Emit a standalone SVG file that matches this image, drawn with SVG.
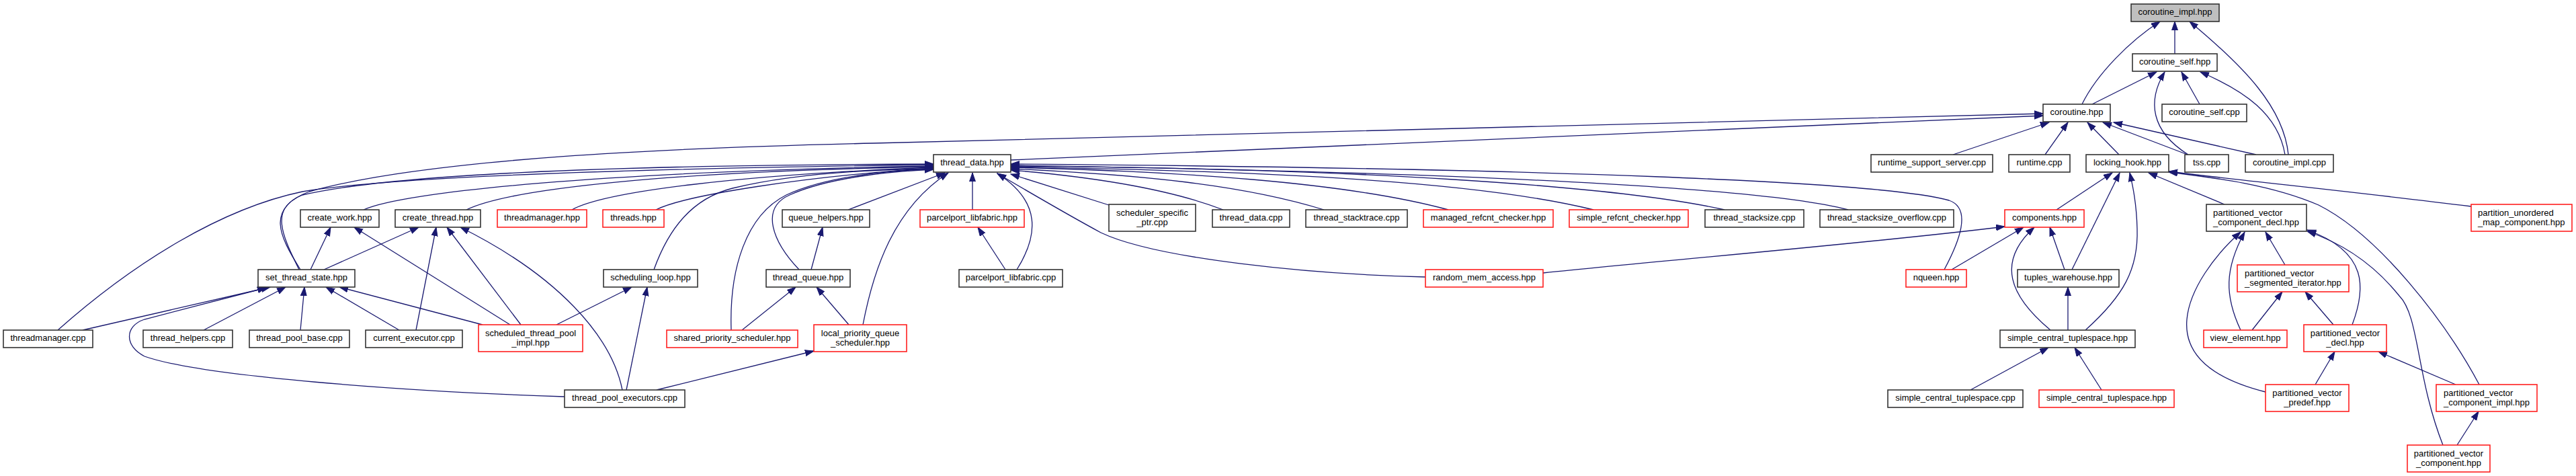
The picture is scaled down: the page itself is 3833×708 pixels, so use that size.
<svg xmlns="http://www.w3.org/2000/svg" width="3833" height="708" viewBox="0 0 3833 708">
<style>
rect{fill:#fff;stroke:#333;stroke-width:1.6}
.red rect{stroke:#ff2020}
.root rect{fill:#bfbfbf}
text{font-family:"Liberation Sans",Arial,sans-serif;font-size:13px;text-anchor:middle;fill:#000}
.l text{text-anchor:start}
.e path{fill:none;stroke:#191970;stroke-width:1.3;marker-end:url(#a)}
</style>
<defs>
<marker id="a" markerUnits="userSpaceOnUse" markerWidth="14" markerHeight="11" refX="13" refY="5" orient="auto"><path d="M0,0.5 L13,5 L0,9.5 z" fill="#191970" stroke="#191970" stroke-width="1"/></marker>
</defs>
<g id="edges" class="e">
<path d="M3236,80 L3236,32"/>
<path d="M3098,155 C3120,110 3170,60 3214,32"/>
<path d="M3405,230 C3398,160 3340,100 3258,32"/>
<path d="M3113,155 L3209,107"/>
<path d="M3256,230 C3200,195 3195,150 3221,107"/>
<path d="M3273,155 L3246,107"/>
<path d="M3400,230 C3390,170 3340,135 3274,107"/>
<path d="M1504,238 L3040,172"/>
<path d="M447,401 C415,350 395,310 460,285 C640,235 1000,220 1300,213 L3040,169"/>
<path d="M2906,230 L3049,182"/>
<path d="M3043,230 L3077,182"/>
<path d="M3153,230 L3106,182"/>
<path d="M3255,230 L3129,182"/>
<path d="M3357,230 L3145,182"/>
<path d="M541,312 C600,285 900,255 1389,247"/>
<path d="M694,312 C760,280 1000,255 1389,248"/>
<path d="M851,312 C900,285 1100,260 1389,249"/>
<path d="M976,312 C1020,290 1200,262 1389,250"/>
<path d="M445,401 C420,350 400,310 450,290 C600,255 1000,245 1389,244"/>
<path d="M86,491 C200,390 330,310 450,285 C600,260 1000,250 1389,245"/>
<path d="M973,401 C995,340 1030,295 1090,280 C1180,258 1300,252 1389,251"/>
<path d="M1088,491 C1085,400 1110,320 1170,290 C1230,262 1320,254 1389,251"/>
<path d="M1189,401 C1150,360 1130,310 1175,290 C1230,265 1320,255 1389,252"/>
<path d="M1262,312 L1406,257"/>
<path d="M1284,483 C1300,400 1330,310 1411,257"/>
<path d="M1447,312 L1447,257"/>
<path d="M1496,401 L1455,338"/>
<path d="M1513,401 C1545,350 1550,300 1484,258"/>
<path d="M2121,412 C1950,408 1720,385 1638,346 C1590,320 1530,285 1484,258"/>
<path d="M1650,305 L1504,259"/>
<path d="M1820,312 C1750,285 1650,265 1504,253"/>
<path d="M1970,312 C1850,275 1700,260 1504,251"/>
<path d="M2155,312 C2000,270 1750,255 1504,249"/>
<path d="M2371,312 C2200,270 1900,255 1504,248"/>
<path d="M2566,312 C2400,275 2000,250 1504,247"/>
<path d="M2750,312 C2650,285 2300,258 1504,246"/>
<path d="M2893,401 C2915,360 2935,310 2900,298 C2800,270 2300,250 1504,244"/>
<path d="M462,401 L492,338"/>
<path d="M482,401 L623,338"/>
<path d="M759,483 L527,338"/>
<path d="M775,483 L665,338"/>
<path d="M619,491 L649,338"/>
<path d="M926,580 C910,500 830,410 685,338"/>
<path d="M123,491 L402,427"/>
<path d="M840,590 C600,582 300,560 215,530 C185,515 185,485 215,475 L396,428"/>
<path d="M303,491 L425,427"/>
<path d="M447,491 L453,427"/>
<path d="M594,491 L485,427"/>
<path d="M718,483 L505,427"/>
<path d="M828,483 L940,427"/>
<path d="M932,580 L963,427"/>
<path d="M1104,491 L1184,427"/>
<path d="M1263,483 L1215,427"/>
<path d="M1207,401 L1224,338"/>
<path d="M977,580 L1211,522"/>
<path d="M3060,312 L3143,257"/>
<path d="M3083,401 L3154,257"/>
<path d="M3103,491 C3160,440 3182,400 3180,340 C3179,300 3173,275 3169,257"/>
<path d="M3310,304 L3197,257"/>
<path d="M3689,572 C3640,480 3540,350 3450,305 C3380,275 3300,265 3227,256"/>
<path d="M3677,307 C3500,285 3350,270 3227,255"/>
<path d="M2296,406 C2500,385 2800,360 2983,337"/>
<path d="M2904,401 L3011,338"/>
<path d="M3051,491 C2990,440 2970,390 3027,338"/>
<path d="M3072,401 L3050,338"/>
<path d="M3077,491 L3077,427"/>
<path d="M2932,580 L3048,517"/>
<path d="M3127,580 L3087,517"/>
<path d="M3400,394 L3371,345"/>
<path d="M3334,491 C3310,440 3310,400 3340,345"/>
<path d="M3351,491 L3396,434"/>
<path d="M3371,583 C3280,560 3250,520 3254,475 C3258,430 3295,380 3334,345"/>
<path d="M3472,483 L3430,434"/>
<path d="M3500,483 C3520,430 3525,375 3433,342"/>
<path d="M3635,662 C3595,560 3600,470 3570,440 C3530,390 3480,360 3433,344"/>
<path d="M3445,572 L3474,523"/>
<path d="M3654,572 L3539,523"/>
<path d="M3656,662 L3688,612"/>
</g>
<g id="n_coroutine_impl_hpp" class="root"><rect x="3171" y="6" width="131" height="26"/><text x="3236.5" y="22">coroutine_impl.hpp</text></g>
<g id="n_coroutine_self_hpp"><rect x="3173" y="80" width="126" height="26"/><text x="3236" y="96">coroutine_self.hpp</text></g>
<g id="n_coroutine_hpp"><rect x="3040" y="155" width="100" height="26"/><text x="3090" y="171">coroutine.hpp</text></g>
<g id="n_coroutine_self_cpp"><rect x="3217" y="155" width="126" height="26"/><text x="3280" y="171">coroutine_self.cpp</text></g>
<g id="n_thread_data_hpp"><rect x="1389" y="230" width="115" height="26"/><text x="1446.5" y="246">thread_data.hpp</text></g>
<g id="n_runtime_support_server_cpp"><rect x="2784" y="230" width="181" height="26"/><text x="2874.5" y="246">runtime_support_server.cpp</text></g>
<g id="n_runtime_cpp"><rect x="2989" y="230" width="91" height="26"/><text x="3034.5" y="246">runtime.cpp</text></g>
<g id="n_locking_hook_hpp"><rect x="3104" y="230" width="123" height="26"/><text x="3165.5" y="246">locking_hook.hpp</text></g>
<g id="n_tss_cpp"><rect x="3251" y="230" width="65" height="26"/><text x="3283.5" y="246">tss.cpp</text></g>
<g id="n_coroutine_impl_cpp"><rect x="3341" y="230" width="131" height="26"/><text x="3406.5" y="246">coroutine_impl.cpp</text></g>
<g id="n_create_work_hpp"><rect x="447" y="312" width="117" height="26"/><text x="505.5" y="328">create_work.hpp</text></g>
<g id="n_create_thread_hpp"><rect x="588" y="312" width="127" height="26"/><text x="651.5" y="328">create_thread.hpp</text></g>
<g id="n_threadmanager_hpp" class="red"><rect x="740" y="312" width="133" height="26"/><text x="806.5" y="328">threadmanager.hpp</text></g>
<g id="n_threads_hpp" class="red"><rect x="897" y="312" width="91" height="26"/><text x="942.5" y="328">threads.hpp</text></g>
<g id="n_queue_helpers_hpp"><rect x="1164" y="312" width="130" height="26"/><text x="1229" y="328">queue_helpers.hpp</text></g>
<g id="n_parcelport_libfabric_hpp" class="red"><rect x="1369" y="312" width="155" height="26"/><text x="1446.5" y="328">parcelport_libfabric.hpp</text></g>
<g id="n_scheduler_specific_ptr_cpp"><rect x="1650" y="304" width="129" height="40"/><text x="1714.5" y="321">scheduler_specific</text><text x="1714.5" y="335">_ptr.cpp</text></g>
<g id="n_thread_data_cpp"><rect x="1804" y="312" width="115" height="26"/><text x="1861.5" y="328">thread_data.cpp</text></g>
<g id="n_thread_stacktrace_cpp"><rect x="1943" y="312" width="151" height="26"/><text x="2018.5" y="328">thread_stacktrace.cpp</text></g>
<g id="n_managed_refcnt_checker_hpp" class="red"><rect x="2118" y="312" width="193" height="26"/><text x="2214.5" y="328">managed_refcnt_checker.hpp</text></g>
<g id="n_simple_refcnt_checker_hpp" class="red"><rect x="2335" y="312" width="177" height="26"/><text x="2423.5" y="328">simple_refcnt_checker.hpp</text></g>
<g id="n_thread_stacksize_cpp"><rect x="2537" y="312" width="147" height="26"/><text x="2610.5" y="328">thread_stacksize.cpp</text></g>
<g id="n_thread_stacksize_overflow_cpp"><rect x="2708" y="312" width="199" height="26"/><text x="2807.5" y="328">thread_stacksize_overflow.cpp</text></g>
<g id="n_components_hpp" class="red"><rect x="2983" y="312" width="118" height="26"/><text x="3042" y="328">components.hpp</text></g>
<g id="n_pv_component_decl_hpp" class="l"><rect x="3283" y="304" width="149" height="40"/><text x="3293" y="321">partitioned_vector</text><text x="3293" y="335">_component_decl.hpp</text></g>
<g id="n_partition_unordered_map_component_hpp" class="red l"><rect x="3677" y="304" width="150" height="40"/><text x="3687" y="321">partition_unordered</text><text x="3687" y="335">_map_component.hpp</text></g>
<g id="n_set_thread_state_hpp"><rect x="384" y="401" width="144" height="26"/><text x="456" y="417">set_thread_state.hpp</text></g>
<g id="n_scheduling_loop_hpp"><rect x="898" y="401" width="140" height="26"/><text x="968" y="417">scheduling_loop.hpp</text></g>
<g id="n_thread_queue_hpp"><rect x="1140" y="401" width="125" height="26"/><text x="1202.5" y="417">thread_queue.hpp</text></g>
<g id="n_parcelport_libfabric_cpp"><rect x="1427" y="401" width="154" height="26"/><text x="1504" y="417">parcelport_libfabric.cpp</text></g>
<g id="n_random_mem_access_hpp" class="red"><rect x="2121" y="401" width="175" height="26"/><text x="2208.5" y="417">random_mem_access.hpp</text></g>
<g id="n_nqueen_hpp" class="red"><rect x="2836" y="401" width="90" height="26"/><text x="2881" y="417">nqueen.hpp</text></g>
<g id="n_tuples_warehouse_hpp"><rect x="3002" y="401" width="151" height="26"/><text x="3077.5" y="417">tuples_warehouse.hpp</text></g>
<g id="n_pv_segmented_iterator_hpp" class="red l"><rect x="3329" y="394" width="166" height="40"/><text x="3340" y="411">partitioned_vector</text><text x="3340" y="425">_segmented_iterator.hpp</text></g>
<g id="n_threadmanager_cpp"><rect x="5" y="491" width="133" height="26"/><text x="71.5" y="507">threadmanager.cpp</text></g>
<g id="n_thread_helpers_cpp"><rect x="213" y="491" width="133" height="26"/><text x="279.5" y="507">thread_helpers.cpp</text></g>
<g id="n_thread_pool_base_cpp"><rect x="371" y="491" width="149" height="26"/><text x="445.5" y="507">thread_pool_base.cpp</text></g>
<g id="n_current_executor_cpp"><rect x="544" y="491" width="144" height="26"/><text x="616" y="507">current_executor.cpp</text></g>
<g id="n_scheduled_thread_pool_impl_hpp" class="red"><rect x="712" y="483" width="155" height="40"/><text x="789.5" y="500">scheduled_thread_pool</text><text x="789.5" y="514">_impl.hpp</text></g>
<g id="n_shared_priority_scheduler_hpp" class="red"><rect x="992" y="491" width="195" height="26"/><text x="1089.5" y="507">shared_priority_scheduler.hpp</text></g>
<g id="n_local_priority_queue_scheduler_hpp" class="red"><rect x="1211" y="483" width="138" height="40"/><text x="1280" y="500">local_priority_queue</text><text x="1280" y="514">_scheduler.hpp</text></g>
<g id="n_simple_central_tuplespace_hpp"><rect x="2976" y="491" width="201" height="26"/><text x="3076.5" y="507">simple_central_tuplespace.hpp</text></g>
<g id="n_view_element_hpp" class="red"><rect x="3279" y="491" width="124" height="26"/><text x="3341" y="507">view_element.hpp</text></g>
<g id="n_pv_decl_hpp" class="red"><rect x="3428" y="483" width="123" height="40"/><text x="3489.5" y="500">partitioned_vector</text><text x="3489.5" y="514">_decl.hpp</text></g>
<g id="n_thread_pool_executors_cpp"><rect x="840" y="580" width="179" height="26"/><text x="929.5" y="596">thread_pool_executors.cpp</text></g>
<g id="n_simple_central_tuplespace_cpp"><rect x="2809" y="580" width="201" height="26"/><text x="2909.5" y="596">simple_central_tuplespace.cpp</text></g>
<g id="n_simple_central_tuplespace_hpp2" class="red"><rect x="3034" y="580" width="201" height="26"/><text x="3134.5" y="596">simple_central_tuplespace.hpp</text></g>
<g id="n_pv_predef_hpp" class="red"><rect x="3371" y="572" width="124" height="40"/><text x="3433" y="589">partitioned_vector</text><text x="3433" y="603">_predef.hpp</text></g>
<g id="n_pv_component_impl_hpp" class="red l"><rect x="3625" y="572" width="150" height="40"/><text x="3636" y="589">partitioned_vector</text><text x="3636" y="603">_component_impl.hpp</text></g>
<g id="n_pv_component_hpp" class="red"><rect x="3582" y="662" width="123" height="40"/><text x="3643.5" y="679">partitioned_vector</text><text x="3643.5" y="693">_component.hpp</text></g>
</svg>
